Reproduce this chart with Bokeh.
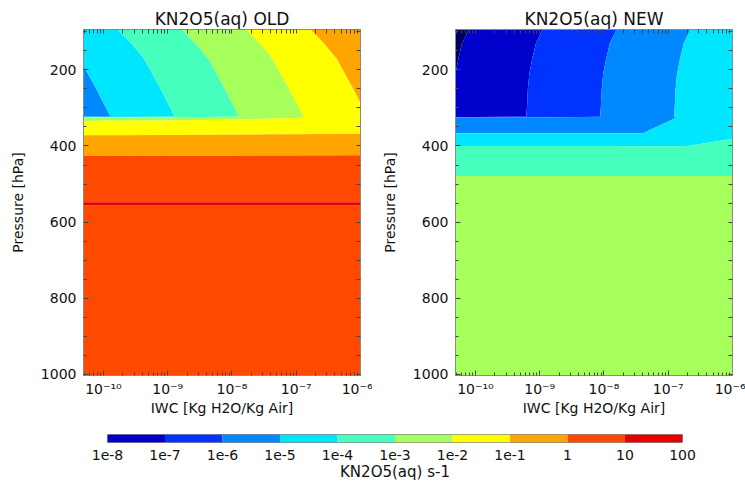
import numpy as np
from bokeh.plotting import figure
from bokeh.layouts import column, row
from bokeh.models import Range1d, FixedTicker, LinearAxis
from bokeh.embed import file_html
from bokeh.resources import INLINE

# ---------------- data ----------------
# x: log10 of IWC [Kg H2O / Kg Air], y: pressure [hPa], z: log10 KN2O5(aq) [s-1]
old_log_iwc = [-10.5, -10.0, -9.0, -8.0, -7.0, -6.0, -5.5]
old_pressure = [90, 130, 170, 210, 250, 290, 323, 325, 340, 400, 440, 545, 552, 559, 1010]
old_log_k = [
    [-4.70, -4.20, -3.20, -2.20, -1.20, -0.20, 0.30],
    [-4.93, -4.43, -3.43, -2.43, -1.43, -0.43, 0.07],
    [-5.13, -4.63, -3.63, -2.63, -1.63, -0.63, -0.13],
    [-5.26, -4.76, -3.76, -2.76, -1.76, -0.76, -0.26],
    [-5.39, -4.89, -3.89, -2.89, -1.89, -0.89, -0.39],
    [-5.51, -5.01, -4.01, -3.01, -2.01, -1.01, -0.51],
    [-5.61, -5.11, -4.11, -3.11, -2.11, -1.11, -0.61],
    [-2.50, -2.45, -2.35, -2.20, -2.05, -1.80, -1.75],
    [-1.70, -1.70, -1.68, -1.66, -1.63, -1.60, -1.60],
    [-0.39, -0.39, -0.37, -0.35, -0.33, -0.31, -0.30],
    [0.20, 0.20, 0.20, 0.20, 0.20, 0.20, 0.20],
    [0.50, 0.50, 0.50, 0.50, 0.50, 0.50, 0.50],
    [1.80, 1.80, 1.80, 1.80, 1.80, 1.80, 1.80],
    [0.50, 0.50, 0.50, 0.50, 0.50, 0.50, 0.50],
    [0.50, 0.50, 0.50, 0.50, 0.50, 0.50, 0.50],
]

new_log_iwc = [-10.5, -10.0, -9.0, -8.0, -7.4, -6.9, -6.7, -6.0, -5.5]
new_pressure = [90, 130, 170, 210, 250, 290, 323, 326, 366, 420, 476, 482, 1010]
new_log_k = [
    [-8.355, -7.92, -7.05, -6.18, -5.658, -5.223, -5.049, -4.44, -4.005],
    [-8.255, -7.82, -6.95, -6.08, -5.558, -5.123, -4.949, -4.34, -3.905],
    [-8.205, -7.77, -6.90, -6.03, -5.508, -5.073, -4.899, -4.29, -3.855],
    [-8.165, -7.73, -6.86, -5.99, -5.468, -5.033, -4.859, -4.25, -3.815],
    [-8.145, -7.71, -6.84, -5.97, -5.448, -5.013, -4.839, -4.23, -3.795],
    [-8.135, -7.70, -6.83, -5.96, -5.438, -5.003, -4.829, -4.22, -3.785],
    [-8.125, -7.69, -6.82, -5.95, -5.428, -4.993, -4.819, -4.21, -3.775],
    [-5.60, -5.60, -5.60, -5.60, -5.60, -5.02, -4.90, -4.60, -4.50],
    [-5.01, -5.01, -5.01, -5.01, -5.01, -4.60, -4.50, -4.30, -4.30],
    [-3.40, -3.40, -3.40, -3.40, -3.45, -3.67, -3.71, -3.22, -3.22],
    [-3.10, -3.10, -3.10, -3.10, -3.10, -3.10, -3.10, -3.10, -3.10],
    [-2.90, -2.90, -2.90, -2.90, -2.90, -2.90, -2.90, -2.90, -2.90],
    [-2.50, -2.50, -2.50, -2.50, -2.50, -2.50, -2.50, -2.50, -2.50],
]

contour_levels = [-12, -8, -7, -6, -5, -4, -3, -2, -1, 0, 1, 2]
contour_colors = ["#00005C", "#0000CD", "#0033FF", "#0088FF", "#00E6FF", "#45FFBD",
                  "#A6FF5A", "#FFFF00", "#FFA500", "#FF4800", "#E60000"]

cb_levels = [-8, -7, -6, -5, -4, -3, -2, -1, 0, 1, 2]
cb_labels = ["1e-8", "1e-7", "1e-6", "1e-5", "1e-4", "1e-3", "1e-2", "1e-1", "1", "10", "100"]
cb_colors = contour_colors[1:]

x_tick_exponents = [-10, -9, -8, -7, -6]
x_tick_labels = ["10\u207b\u00b9\u2070", "10\u207b\u2079", "10\u207b\u2078", "10\u207b\u2077", "10\u207b\u2076"]
y_ticks = [200, 400, 600, 800, 1000]
y_minor = [100, 150, 250, 300, 350, 450, 500, 550, 650, 700, 750, 850, 900, 950]

FONT = "DejaVu Sans"
x_minor = [n + np.log10(k) for n in range(-11, -6) for k in range(2, 10)]


def style_axis(ax):
    ax.major_tick_in = 5
    ax.major_tick_out = 0
    ax.minor_tick_in = 3
    ax.minor_tick_out = 0
    ax.axis_line_color = "#8a8a8a"
    ax.major_tick_line_color = "#444444"
    ax.minor_tick_line_color = "#444444"
    ax.major_label_text_font = FONT
    ax.axis_label_text_font = FONT
    ax.axis_label_text_font_style = "normal"
    ax.major_label_text_color = "#111111"
    ax.axis_label_text_color = "#111111"
    ax.major_label_text_font_size = "14px"
    ax.axis_label_text_font_size = "14px"


def mirror_axis(ticks):
    # tick marks only (all passed as minor ticks, so no labels are drawn)
    ax = LinearAxis(ticker=FixedTicker(ticks=[], minor_ticks=ticks))
    ax.minor_tick_in = 4
    ax.minor_tick_out = 0
    ax.major_tick_in = 0
    ax.major_tick_out = 0
    ax.major_label_standoff = 0
    ax.axis_line_color = "#8a8a8a"
    ax.minor_tick_line_color = "#444444"
    return ax


def make_panel(title, xs, ps, zs, width, right_border):
    p = figure(width=width, height=418,
               x_range=Range1d(-10.31, -6.0), y_range=Range1d(1003, 94),
               output_backend="svg", toolbar_location=None,
               min_border_left=83, min_border_right=right_border,
               min_border_top=29, min_border_bottom=38)
    p.title.text = title
    p.title.align = "center"
    p.title.text_font = FONT
    p.title.text_font_size = "17px"
    p.title.text_font_style = "normal"
    p.title.text_color = "#111111"
    p.title.standoff = 2
    p.xgrid.visible = False
    p.ygrid.visible = False
    p.outline_line_color = "#8a8a8a"
    p.background_fill_color = "white"

    p.contour(x=xs, y=ps, z=np.array(zs), levels=contour_levels, fill_color=contour_colors)

    xt = FixedTicker(ticks=x_tick_exponents, minor_ticks=x_minor)
    yt = FixedTicker(ticks=y_ticks, minor_ticks=y_minor)

    xa = p.xaxis[0]
    xa.ticker = xt
    xa.major_label_overrides = dict(zip(x_tick_exponents, x_tick_labels))
    xa.axis_label = "IWC [Kg H2O/Kg Air]"
    style_axis(xa)
    xa.major_label_standoff = 5
    xa.axis_label_standoff = 0

    ya = p.yaxis[0]
    ya.ticker = yt
    ya.axis_label = "Pressure [hPa]"
    style_axis(ya)
    ya.major_label_standoff = 7
    ya.axis_label_standoff = 12

    p.add_layout(mirror_axis(list(x_tick_exponents) + list(x_minor)), "above")
    p.add_layout(mirror_axis(list(y_ticks) + list(y_minor)), "right")
    return p


p_old = make_panel("KN2O5(aq) OLD", old_log_iwc, old_pressure, old_log_k, 372, 12)
p_new = make_panel("KN2O5(aq) NEW", new_log_iwc, new_pressure, new_log_k, 373, 13)

pc = figure(width=745, height=65, x_range=Range1d(-8, 2), y_range=Range1d(0, 1),
            output_backend="svg", toolbar_location=None, y_axis_location=None,
            min_border_left=107, min_border_right=63, min_border_top=16, min_border_bottom=37)
pc.quad(left=cb_levels[:-1], right=cb_levels[1:], bottom=0, top=1,
        fill_color=cb_colors, line_color=None)
pc.xgrid.visible = False
pc.ygrid.visible = False
pc.outline_line_color = "#8a8a8a"
cax = pc.xaxis[0]
cax.ticker = FixedTicker(ticks=cb_levels)
cax.major_label_overrides = dict(zip(cb_levels, cb_labels))
cax.axis_label = "KN2O5(aq) s-1"
cax.axis_line_color = None
cax.major_tick_line_color = None
cax.minor_tick_line_color = None
cax.major_label_text_font = FONT
cax.major_label_text_font_size = "14px"
cax.major_label_text_color = "#111111"
cax.major_label_standoff = 1
cax.axis_label_text_font = FONT
cax.axis_label_text_font_size = "15px"
cax.axis_label_text_font_style = "normal"
cax.axis_label_text_color = "#111111"
cax.axis_label_standoff = 0

layout = column(row(p_old, p_new), pc)
open("out.html", "w").write(file_html(layout, INLINE))
